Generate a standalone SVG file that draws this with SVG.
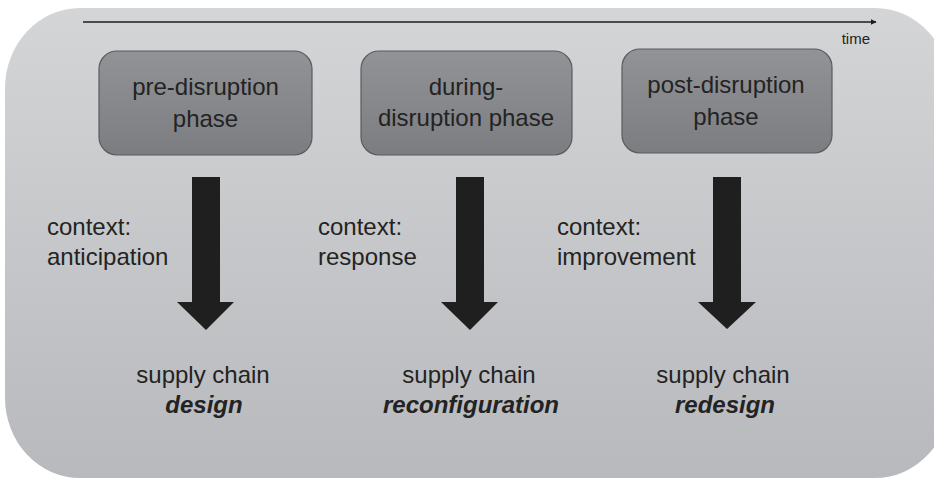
<svg xmlns="http://www.w3.org/2000/svg" width="934" height="482" viewBox="0 0 934 482">
  <defs>
    <linearGradient id="bg" x1="0" y1="0" x2="0" y2="1">
      <stop offset="0" stop-color="#d4d5d7"/>
      <stop offset="1" stop-color="#b8b9bc"/>
    </linearGradient>
    <linearGradient id="box" x1="0" y1="0" x2="0" y2="1">
      <stop offset="0" stop-color="#929396"/>
      <stop offset="1" stop-color="#7c7d80"/>
    </linearGradient>
    <marker id="tip" viewBox="0 0 10 10" refX="9" refY="5" markerWidth="6" markerHeight="6" markerUnits="userSpaceOnUse" orient="auto">
      <path d="M0,0 L10,5 L0,10 Z" fill="#1e1e1e"/>
    </marker>
    <style>
      text { font-family: "Liberation Sans", Arial, sans-serif; fill: #232323; }
      .lbl { font-size: 24px; }
      .box { fill: url(#box); stroke: #5a5b5e; stroke-width: 1.2; }
      .big { fill: #1f1f1f; }
      .bi { font-size: 24px; font-weight: bold; font-style: italic; }
    </style>
  </defs>

  <rect x="5" y="8" width="945" height="470" rx="75" ry="80" fill="url(#bg)"/>

  <g id="connectors">
    <line x1="83" y1="22" x2="876" y2="22" stroke="#1e1e1e" stroke-width="1.6" marker-end="url(#tip)"/>
    <polygon class="big" points="192,177 220,177 220,302 234,302 206,330 177,302 192,302"/>
    <polygon class="big" points="456,177 484,177 484,302 498,302 470,330 441,302 456,302"/>
    <polygon class="big" points="713,177 741,177 741,302 756,302 727,329 698,302 713,302"/>
  </g>

  <g id="time-label">
    <text x="870" y="44" text-anchor="end" style="font-size:15px">time</text>
  </g>

  <g id="pre-disruption">
    <rect class="box" x="99" y="51" width="213" height="104" rx="18"/>
    <text class="lbl" x="205.5" y="95" text-anchor="middle">pre-disruption</text>
    <text class="lbl" x="205.5" y="127" text-anchor="middle">phase</text>
  </g>
  <g id="during-disruption">
    <rect class="box" x="361" y="51" width="211" height="104" rx="18"/>
    <text class="lbl" x="466" y="95" text-anchor="middle">during-</text>
    <text class="lbl" x="466" y="126" text-anchor="middle">disruption phase</text>
  </g>
  <g id="post-disruption">
    <rect class="box" x="622" y="49" width="210" height="104" rx="18"/>
    <text class="lbl" x="726" y="93" text-anchor="middle">post-disruption</text>
    <text class="lbl" x="726" y="125" text-anchor="middle">phase</text>
  </g>

  <g id="context-anticipation">
    <text class="lbl" x="47" y="235">context:</text>
    <text class="lbl" x="47" y="265">anticipation</text>
  </g>
  <g id="context-response">
    <text class="lbl" x="318" y="235">context:</text>
    <text class="lbl" x="318" y="265">response</text>
  </g>
  <g id="context-improvement">
    <text class="lbl" x="557" y="235">context:</text>
    <text class="lbl" x="557" y="265">improvement</text>
  </g>

  <g id="sc-design">
    <text class="lbl" x="203" y="383" text-anchor="middle">supply chain</text>
    <text class="bi" x="204" y="413" text-anchor="middle">design</text>
  </g>
  <g id="sc-reconfiguration">
    <text class="lbl" x="469" y="383" text-anchor="middle">supply chain</text>
    <text class="bi" x="471" y="413" text-anchor="middle">reconfiguration</text>
  </g>
  <g id="sc-redesign">
    <text class="lbl" x="723" y="383" text-anchor="middle">supply chain</text>
    <text class="bi" x="725" y="413" text-anchor="middle">redesign</text>
  </g>
</svg>
